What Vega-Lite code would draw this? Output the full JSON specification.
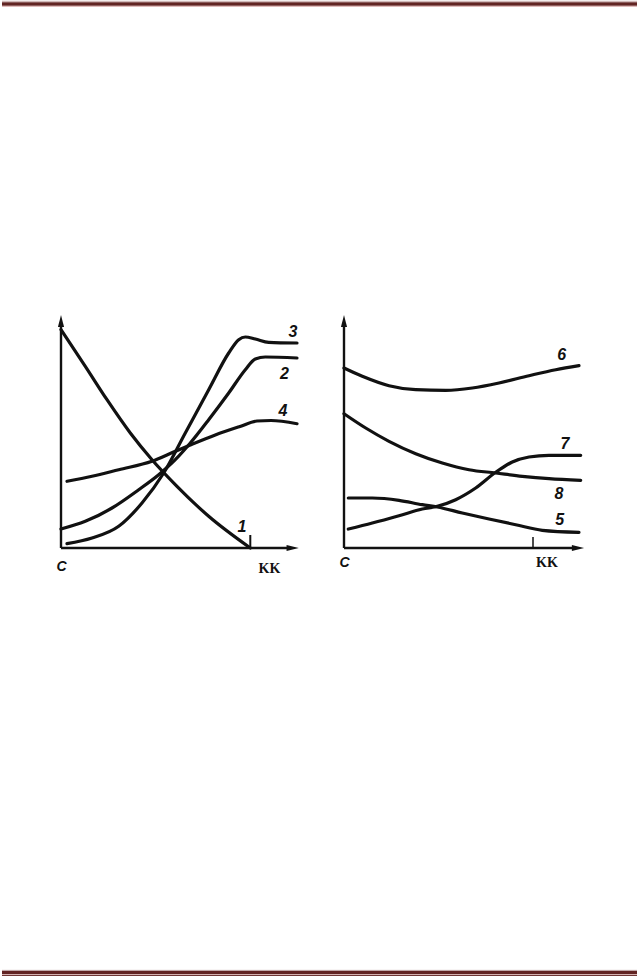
{
  "$schema": "https://vega.github.io/schema/vega-lite/v6.json",
  "padding": 0,
  "background": "white",
  "config": {"view": {"stroke": null}, "axis": {"disable": true}, "concat": {"spacing": 0}},
  "datasets": {
    "curves": [
      {"panel": "L", "curve": "1", "x": 0, "y": 218.3}, {"panel": "L", "curve": "1", "x": 24.3, "y": 181.7}, {"panel": "L", "curve": "1", "x": 46, "y": 148.3}, {"panel": "L", "curve": "1", "x": 69.3, "y": 115}, {"panel": "L", "curve": "1", "x": 91, "y": 88.3}, {"panel": "L", "curve": "1", "x": 116, "y": 61.7}, {"panel": "L", "curve": "1", "x": 147.7, "y": 31.7}, {"panel": "L", "curve": "1", "x": 189.3, "y": 0},
      {"panel": "L", "curve": "2", "x": 0, "y": 19}, {"panel": "L", "curve": "2", "x": 24.3, "y": 26.7}, {"panel": "L", "curve": "2", "x": 51, "y": 40}, {"panel": "L", "curve": "2", "x": 77.7, "y": 58.3}, {"panel": "L", "curve": "2", "x": 97.7, "y": 73.3}, {"panel": "L", "curve": "2", "x": 114.3, "y": 88.3}, {"panel": "L", "curve": "2", "x": 129.3, "y": 105}, {"panel": "L", "curve": "2", "x": 147.7, "y": 128.3}, {"panel": "L", "curve": "2", "x": 167.7, "y": 155}, {"panel": "L", "curve": "2", "x": 184.3, "y": 178.3}, {"panel": "L", "curve": "2", "x": 194.3, "y": 189}, {"panel": "L", "curve": "2", "x": 204.3, "y": 191}, {"panel": "L", "curve": "2", "x": 236, "y": 190},
      {"panel": "L", "curve": "3", "x": 6, "y": 4.3}, {"panel": "L", "curve": "3", "x": 31, "y": 10}, {"panel": "L", "curve": "3", "x": 57.7, "y": 21.7}, {"panel": "L", "curve": "3", "x": 81, "y": 45}, {"panel": "L", "curve": "3", "x": 102.7, "y": 75}, {"panel": "L", "curve": "3", "x": 124.3, "y": 115}, {"panel": "L", "curve": "3", "x": 147.7, "y": 158.3}, {"panel": "L", "curve": "3", "x": 167.7, "y": 195}, {"panel": "L", "curve": "3", "x": 177.7, "y": 208.3}, {"panel": "L", "curve": "3", "x": 184.3, "y": 211}, {"panel": "L", "curve": "3", "x": 194.3, "y": 209}, {"panel": "L", "curve": "3", "x": 207.7, "y": 205.7}, {"panel": "L", "curve": "3", "x": 236, "y": 205},
      {"panel": "L", "curve": "4", "x": 6, "y": 66.7}, {"panel": "L", "curve": "4", "x": 31, "y": 71.7}, {"panel": "L", "curve": "4", "x": 57.7, "y": 78.3}, {"panel": "L", "curve": "4", "x": 91, "y": 86.7}, {"panel": "L", "curve": "4", "x": 114.3, "y": 96.7}, {"panel": "L", "curve": "4", "x": 129.3, "y": 103}, {"panel": "L", "curve": "4", "x": 154.3, "y": 113}, {"panel": "L", "curve": "4", "x": 179, "y": 121.5}, {"panel": "L", "curve": "4", "x": 196, "y": 127}, {"panel": "L", "curve": "4", "x": 210, "y": 127.5}, {"panel": "L", "curve": "4", "x": 236, "y": 124.3},
      {"panel": "R", "curve": "6", "x": 0, "y": 180}, {"panel": "R", "curve": "6", "x": 18.3, "y": 171.7}, {"panel": "R", "curve": "6", "x": 45, "y": 162.3}, {"panel": "R", "curve": "6", "x": 71.7, "y": 158.3}, {"panel": "R", "curve": "6", "x": 101.7, "y": 157.7}, {"panel": "R", "curve": "6", "x": 128.3, "y": 160}, {"panel": "R", "curve": "6", "x": 155, "y": 165}, {"panel": "R", "curve": "6", "x": 185, "y": 172.3}, {"panel": "R", "curve": "6", "x": 211.7, "y": 178.3}, {"panel": "R", "curve": "6", "x": 235, "y": 182.3},
      {"panel": "R", "curve": "8", "x": 0, "y": 134.3}, {"panel": "R", "curve": "8", "x": 21.7, "y": 120}, {"panel": "R", "curve": "8", "x": 45, "y": 106.7}, {"panel": "R", "curve": "8", "x": 71.7, "y": 94.3}, {"panel": "R", "curve": "8", "x": 98.3, "y": 85}, {"panel": "R", "curve": "8", "x": 125, "y": 78.3}, {"panel": "R", "curve": "8", "x": 151.7, "y": 75}, {"panel": "R", "curve": "8", "x": 178.3, "y": 71.7}, {"panel": "R", "curve": "8", "x": 205, "y": 69.3}, {"panel": "R", "curve": "8", "x": 236.7, "y": 67.7},
      {"panel": "R", "curve": "7", "x": 4.3, "y": 19}, {"panel": "R", "curve": "7", "x": 28.3, "y": 25}, {"panel": "R", "curve": "7", "x": 55, "y": 32.3}, {"panel": "R", "curve": "7", "x": 78.3, "y": 39}, {"panel": "R", "curve": "7", "x": 93.3, "y": 41.7}, {"panel": "R", "curve": "7", "x": 111.7, "y": 48.3}, {"panel": "R", "curve": "7", "x": 131.7, "y": 60}, {"panel": "R", "curve": "7", "x": 151.7, "y": 75.7}, {"panel": "R", "curve": "7", "x": 168.3, "y": 86}, {"panel": "R", "curve": "7", "x": 185, "y": 91}, {"panel": "R", "curve": "7", "x": 205, "y": 92.7}, {"panel": "R", "curve": "7", "x": 236.7, "y": 92.7},
      {"panel": "R", "curve": "5", "x": 4.3, "y": 50}, {"panel": "R", "curve": "5", "x": 28.3, "y": 50}, {"panel": "R", "curve": "5", "x": 55, "y": 47.7}, {"panel": "R", "curve": "5", "x": 78.3, "y": 43.3}, {"panel": "R", "curve": "5", "x": 93.3, "y": 41}, {"panel": "R", "curve": "5", "x": 118.3, "y": 35}, {"panel": "R", "curve": "5", "x": 145, "y": 29}, {"panel": "R", "curve": "5", "x": 171.7, "y": 23.3}, {"panel": "R", "curve": "5", "x": 198.3, "y": 17.7}, {"panel": "R", "curve": "5", "x": 235, "y": 15.7}
    ],
    "labels": [
      {"panel": "L", "role": "curve", "text": "1", "x": 181, "y": 21},
      {"panel": "L", "role": "curve", "text": "2", "x": 223.5, "y": 174.5},
      {"panel": "L", "role": "curve", "text": "3", "x": 232, "y": 216},
      {"panel": "L", "role": "curve", "text": "4", "x": 222, "y": 137},
      {"panel": "R", "role": "curve", "text": "6", "x": 217.7, "y": 193.3},
      {"panel": "R", "role": "curve", "text": "7", "x": 221, "y": 104.3},
      {"panel": "R", "role": "curve", "text": "8", "x": 215, "y": 54.3},
      {"panel": "R", "role": "curve", "text": "5", "x": 215.7, "y": 27.7},
      {"panel": "L", "role": "origin", "text": "C", "x": 0.5, "y": -19},
      {"panel": "L", "role": "end", "text": "KK", "x": 208.5, "y": -21},
      {"panel": "R", "role": "origin", "text": "C", "x": 0.5, "y": -15},
      {"panel": "R", "role": "end", "text": "KK", "x": 203, "y": -15}
    ],
    "one": [{}]
  },
  "vconcat": [
    {
      "width": 637,
      "height": 308,
      "data": {"name": "one"},
      "layer": [
        {"mark": {"type": "rule", "color": "#b89090", "strokeWidth": 0.8}, "encoding": {"y": {"datum": 1.3, "scale": {"domain": [0, 308], "reverse": true, "nice": false, "zero": false}, "axis": null}}},
        {"mark": {"type": "rule", "color": "#622423", "strokeWidth": 3.4}, "encoding": {"y": {"datum": 4}}},
        {"mark": {"type": "rule", "color": "#d4a0a0", "strokeWidth": 0.8}, "encoding": {"y": {"datum": 6.4}}}
      ]
    },
    {
      "hconcat": [
        {
          "width": 309,
          "height": 270,
          "data": {"name": "one"},
          "layer": [
            {"data": {"name": "curves"}, "transform": [{"filter": "datum.panel === 'L'"}],
             "mark": {"type": "line", "interpolate": "monotone", "color": "#111111", "strokeWidth": 3.2, "strokeCap": "round"},
             "encoding": {"x": {"field": "x", "type": "quantitative", "scale": {"domain": [-59, 250], "nice": false, "zero": false}, "axis": null},
                          "y": {"field": "y", "type": "quantitative", "scale": {"domain": [-30, 240], "nice": false, "zero": false}, "axis": null},
                          "detail": {"field": "curve"}}},
            {"mark": {"type": "rule", "color": "#111111", "strokeWidth": 2.4}, "encoding": {"x": {"datum": 0}, "y": {"datum": 0}, "y2": {"datum": 224}}},
            {"mark": {"type": "rule", "color": "#111111", "strokeWidth": 2.4}, "encoding": {"x": {"datum": 0}, "x2": {"datum": 229}, "y": {"datum": 0}}},
            {"mark": {"type": "rule", "color": "#111111", "strokeWidth": 2}, "encoding": {"x": {"datum": 189.3}, "y": {"datum": 0}, "y2": {"datum": 13}}},
            {"mark": {"type": "point", "shape": "M0,-1L-0.5,1L0.5,1Z", "filled": true, "color": "#111111", "opacity": 1, "size": 150}, "encoding": {"x": {"datum": 0}, "y": {"datum": 227}}},
            {"mark": {"type": "point", "shape": "M1,0L-1,-0.5L-1,0.5Z", "filled": true, "color": "#111111", "opacity": 1, "size": 150}, "encoding": {"x": {"datum": 231.7}, "y": {"datum": 0}}},
            {"data": {"name": "labels"}, "transform": [{"filter": "datum.panel === 'L' && datum.role === 'curve'"}],
             "mark": {"type": "text", "font": "Liberation Sans", "fontWeight": "bold", "fontStyle": "italic", "fontSize": 16, "color": "#111111", "align": "center", "baseline": "middle"},
             "encoding": {"x": {"field": "x", "type": "quantitative"}, "y": {"field": "y", "type": "quantitative"}, "text": {"field": "text"}}},
            {"data": {"name": "labels"}, "transform": [{"filter": "datum.panel === 'L' && datum.role === 'origin'"}],
             "mark": {"type": "text", "font": "Liberation Sans", "fontWeight": "bold", "fontStyle": "italic", "fontSize": 14, "color": "#111111", "align": "center", "baseline": "middle"},
             "encoding": {"x": {"field": "x", "type": "quantitative"}, "y": {"field": "y", "type": "quantitative"}, "text": {"field": "text"}}},
            {"data": {"name": "labels"}, "transform": [{"filter": "datum.panel === 'L' && datum.role === 'end'"}],
             "mark": {"type": "text", "font": "Liberation Serif", "fontWeight": "bold", "fontSize": 14, "color": "#111111", "align": "center", "baseline": "middle"},
             "encoding": {"x": {"field": "x", "type": "quantitative"}, "y": {"field": "y", "type": "quantitative"}, "text": {"field": "text"}}}
          ]
        },
        {
          "width": 260,
          "height": 270,
          "data": {"name": "one"},
          "layer": [
            {"data": {"name": "curves"}, "transform": [{"filter": "datum.panel === 'R'"}],
             "mark": {"type": "line", "interpolate": "monotone", "color": "#111111", "strokeWidth": 3.2, "strokeCap": "round"},
             "encoding": {"x": {"field": "x", "type": "quantitative", "scale": {"domain": [-10, 250], "nice": false, "zero": false}, "axis": null},
                          "y": {"field": "y", "type": "quantitative", "scale": {"domain": [-30, 240], "nice": false, "zero": false}, "axis": null},
                          "detail": {"field": "curve"}}},
            {"mark": {"type": "rule", "color": "#111111", "strokeWidth": 2.4}, "encoding": {"x": {"datum": 0}, "y": {"datum": 0}, "y2": {"datum": 224}}},
            {"mark": {"type": "rule", "color": "#111111", "strokeWidth": 2.4}, "encoding": {"x": {"datum": 0}, "x2": {"datum": 232}, "y": {"datum": 0}}},
            {"mark": {"type": "rule", "color": "#111111", "strokeWidth": 1.5}, "encoding": {"x": {"datum": 189}, "y": {"datum": 0}, "y2": {"datum": 11}}},
            {"mark": {"type": "point", "shape": "M0,-1L-0.5,1L0.5,1Z", "filled": true, "color": "#111111", "opacity": 1, "size": 150}, "encoding": {"x": {"datum": 0}, "y": {"datum": 227}}},
            {"mark": {"type": "point", "shape": "M1,0L-1,-0.5L-1,0.5Z", "filled": true, "color": "#111111", "opacity": 1, "size": 150}, "encoding": {"x": {"datum": 234}, "y": {"datum": 0}}},
            {"data": {"name": "labels"}, "transform": [{"filter": "datum.panel === 'R' && datum.role === 'curve'"}],
             "mark": {"type": "text", "font": "Liberation Sans", "fontWeight": "bold", "fontStyle": "italic", "fontSize": 16, "color": "#111111", "align": "center", "baseline": "middle"},
             "encoding": {"x": {"field": "x", "type": "quantitative"}, "y": {"field": "y", "type": "quantitative"}, "text": {"field": "text"}}},
            {"data": {"name": "labels"}, "transform": [{"filter": "datum.panel === 'R' && datum.role === 'origin'"}],
             "mark": {"type": "text", "font": "Liberation Sans", "fontWeight": "bold", "fontStyle": "italic", "fontSize": 14, "color": "#111111", "align": "center", "baseline": "middle"},
             "encoding": {"x": {"field": "x", "type": "quantitative"}, "y": {"field": "y", "type": "quantitative"}, "text": {"field": "text"}}},
            {"data": {"name": "labels"}, "transform": [{"filter": "datum.panel === 'R' && datum.role === 'end'"}],
             "mark": {"type": "text", "font": "Liberation Serif", "fontWeight": "bold", "fontSize": 14, "color": "#111111", "align": "center", "baseline": "middle"},
             "encoding": {"x": {"field": "x", "type": "quantitative"}, "y": {"field": "y", "type": "quantitative"}, "text": {"field": "text"}}}
          ]
        }
      ],
      "spacing": 23
    },
    {
      "width": 637,
      "height": 398,
      "data": {"name": "one"},
      "layer": [
        {"mark": {"type": "rule", "color": "#a88888", "strokeWidth": 0.8}, "encoding": {"y": {"datum": 392.4, "scale": {"domain": [0, 398], "reverse": true, "nice": false, "zero": false}, "axis": null}}},
        {"mark": {"type": "rule", "color": "#622423", "strokeWidth": 3.2}, "encoding": {"y": {"datum": 394.6}}},
        {"mark": {"type": "rule", "color": "#d4a0a0", "strokeWidth": 0.8}, "encoding": {"y": {"datum": 396.8}}},
        {"mark": {"type": "rule", "color": "#622423", "strokeWidth": 1}, "encoding": {"y": {"datum": 397.6}}}
      ]
    }
  ]
}
